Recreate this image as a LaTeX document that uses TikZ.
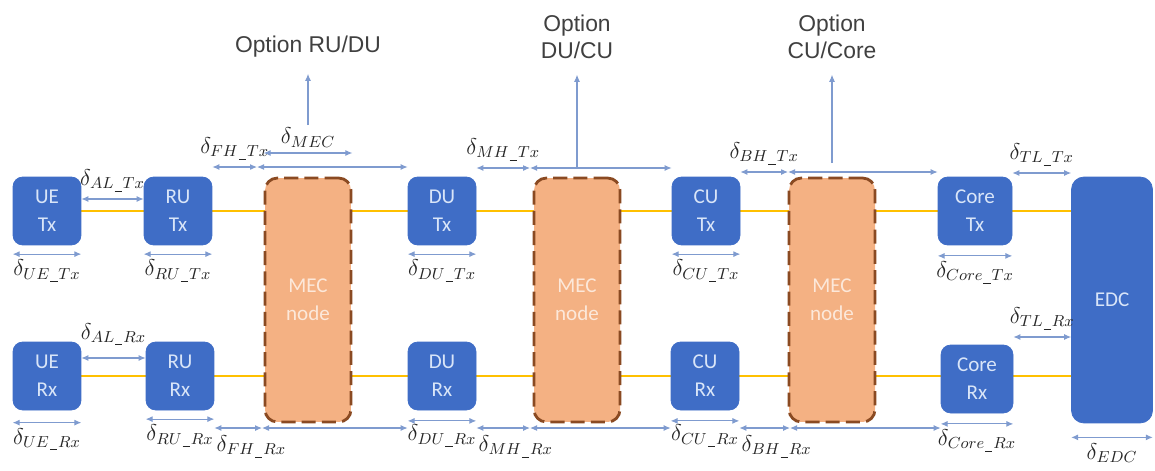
\RequirePackage{fix-cm}
\documentclass[tikz,border=0pt]{standalone}
\usepackage{fontspec}
\usepackage{xcolor}
\usetikzlibrary{arrows.meta, positioning, calc, backgrounds}
\newfontfamily\boxfont{Carlito}
\newfontfamily\optfont{Liberation Sans}
\newcommand{\lowbar}{\mkern1mu\rule[-0.25ex]{0.32em}{0.4pt}\mkern1mu}
\definecolor{ranblue}{HTML}{3F6DC6}
\definecolor{ranlight}{HTML}{D9E5F8}
\definecolor{mecfill}{HTML}{F4B183}
\definecolor{mecedge}{HTML}{8A4A22}
\definecolor{meclight}{HTML}{FCE8DA}
\definecolor{wireyel}{HTML}{FFC000}
\definecolor{dimblue}{HTML}{7F9BCF}
\definecolor{optgray}{HTML}{404040}
\tikzset{
  block/.style={draw=ranblue, fill=ranblue, rounded corners=5.5pt, align=center, minimum width=1.36cm, minimum height=1.36cm, inner sep=1pt, text=ranlight, font=\boxfont\fontsize{12}{16}\selectfont},
  edcblock/.style={block, rounded corners=7pt, minimum width=1.62cm, minimum height=4.92cm},
  mec/.style={draw=mecedge, fill=mecfill, line width=1.6pt, dash pattern=on 8pt off 3.5pt, rounded corners=7pt, align=center, minimum width=1.72cm, minimum height=4.88cm, text=meclight, font=\boxfont\fontsize{12}{16}\selectfont},
  link/.style={wireyel, line width=0.8pt},
  delay/.style={{Latex[length=1.4mm, width=1.2mm]}-{Latex[length=1.4mm, width=1.2mm]}, dimblue, line width=0.6pt},
  rise/.style={-{Latex[length=1.4mm, width=1.2mm]}, dimblue, line width=0.6pt, shorten >=2mm},
  note/.style={inner sep=1pt, text=black!85, font=\fontsize{13}{15}\selectfont},
  option/.style={align=center, text=optgray, font=\optfont\fontsize{13}{15}\selectfont}
}
\begin{document}
\begin{tikzpicture}[x=0.02cm, y=-0.02cm]
    \useasboundingbox (0,0) rectangle (1155,470);
    \node[block] (uetx) at (47,211) {UE\\Tx};
    \node[block] (rutx) at (178,211) {RU\\Tx};
    \node[block] (dutx) at (442,211) {DU\\Tx};
    \node[block] (cutx) at (706,211) {CU\\Tx};
    \node[block, minimum width=1.48cm] (coretx) at (975,211) {Core\\Tx};
    \node[block] (uerx) at (47,376) {UE\\Rx};
    \node[block] (rurx) at (180,376) {RU\\Rx};
    \node[block] (durx) at (442,376) {DU\\Rx};
    \node[block] (curx) at (705,376) {CU\\Rx};
    \node[block, minimum width=1.44cm] (corerx) at (977,379) {Core\\Rx};
    \node[edcblock] (edc) at (1112,300) {EDC};
    \node[mec] (mec1) at (308,300) {MEC\\node};
    \node[mec] (mec2) at (577,300) {MEC\\node};
    \node[mec] (mec3) at (832,300) {MEC\\node};
    \begin{scope}[on background layer]
        \draw[link] (uetx.center) -- (uetx.center -| edc.west);
        \draw[link] (uerx.center) -- (uerx.center -| edc.west);
    \end{scope}
    \node[option] (optrudu) at (mec1.north |- 0,47) {Option RU/DU};
    \node[option] (optducu) at (mec2.north |- 0,37) {Option\\DU/CU};
    \node[option] (optcucore) at (mec3.north |- 0,37) {Option\\CU/Core};
    \coordinate (fhtx) at (257,167);
    \coordinate (mhtx) at (530,168);
    \coordinate (bhtx) at (788,172);
    \coordinate (fhrx) at (262,428);
    \coordinate (mhrx) at (530,428);
    \coordinate (bhrx) at (790,428);
    \draw[delay] ([yshift=-5pt]uetx.south west) -- node[note, below=2pt] (luetx) {$\delta_{UE\lowbar Tx}$} ([yshift=-5pt]uetx.south east);
    \draw[delay] ([yshift=-5pt]rutx.south west) -- node[note, below=2pt] (lrutx) {$\delta_{RU\lowbar Tx}$} ([yshift=-5pt]rutx.south east);
    \draw[delay] ([yshift=-5pt]dutx.south west) -- node[note, below=2pt] (ldutx) {$\delta_{DU\lowbar Tx}$} ([yshift=-5pt]dutx.south east);
    \draw[delay] ([yshift=-5pt]cutx.south west) -- node[note, below=2pt] (lcutx) {$\delta_{CU\lowbar Tx}$} ([yshift=-5pt]cutx.south east);
    \draw[delay] ([yshift=-6pt]coretx.south west) -- node[note, below=2pt] (lcoretx) {$\delta_{Core\lowbar Tx}$} ([yshift=-6pt]coretx.south east);
    \draw[delay] (uetx.east |- 0,199) -- node[note, above=3pt] (laltx) {$\delta_{AL\lowbar Tx}$} (rutx.west |- 0,199);
    \draw[delay] (rutx.east |- fhtx) -- node[note, above=3pt] (lfhtx) {$\delta_{FH\lowbar Tx}$} (fhtx);
    \draw[delay] (fhtx) -- (dutx.west |- fhtx);
    \draw[delay] (mec1.west |- 0,153) -- node[note, above=2pt] (lmec) {$\delta_{MEC}$} (mec1.east |- 0,153);
    \draw[rise] (mec1.north |- 0,125) -- (optrudu);
    \draw[delay] (dutx.east |- mhtx) -- node[note, above=3pt] (lmhtx) {$\delta_{MH\lowbar Tx}$} (mhtx);
    \draw[delay] (mhtx) -- (cutx.west |- mhtx);
    \draw[rise] (mec2.north |- mhtx) -- (optducu);
    \draw[delay] (cutx.east |- bhtx) -- node[note, above=3pt] (lbhtx) {$\delta_{BH\lowbar Tx}$} (bhtx);
    \draw[delay] (bhtx) -- (coretx.west |- bhtx);
    \draw[rise] (mec3.north |- 0,163) -- (optcucore);
    \draw[delay] (coretx.east |- 0,173) -- node[note, above=3pt] (ltltx) {$\delta_{TL\lowbar Tx}$} (edc.west |- 0,173);
    \draw[delay] ([yshift=-7pt]uerx.south west) -- node[note, below=2pt] (luerx) {$\delta_{UE\lowbar Rx}$} ([yshift=-7pt]uerx.south east);
    \draw[delay] ([yshift=-5pt]rurx.south west) -- node[note, below=2pt] (lrurx) {$\delta_{RU\lowbar Rx}$} ([yshift=-5pt]rurx.south east);
    \draw[delay] ([yshift=-6pt]durx.south west) -- node[note, below=1pt] (ldurx) {$\delta_{DU\lowbar Rx}$} ([yshift=-6pt]durx.south east);
    \draw[delay] ([yshift=-6pt]curx.south west) -- node[note, below=1pt] (lcurx) {$\delta_{CU\lowbar Rx}$} ([yshift=-6pt]curx.south east);
    \draw[delay] ([yshift=-6pt]corerx.south west) -- node[note, below=2pt] (lcorerx) {$\delta_{Core\lowbar Rx}$} ([yshift=-6pt]corerx.south east);
    \draw[delay] (uerx.east |- 0,358) -- node[note, above=6pt] (lalrx) {$\delta_{AL\lowbar Rx}$} (rurx.west |- 0,358);
    \draw[delay] (rurx.east |- fhrx) -- node[note, pos=0, anchor=north west, yshift=-3pt] (lfhrx) {$\delta_{FH\lowbar Rx}$} (fhrx);
    \draw[delay] (fhrx) -- (durx.west |- fhrx);
    \draw[delay] (durx.east |- mhrx) -- node[note, pos=0, anchor=north west, yshift=-3pt] (lmhrx) {$\delta_{MH\lowbar Rx}$} (mhrx);
    \draw[delay] (mhrx) -- (curx.west |- mhrx);
    \draw[delay] (curx.east |- bhrx) -- node[note, pos=0, anchor=north west, yshift=-3pt] (lbhrx) {$\delta_{BH\lowbar Rx}$} (bhrx);
    \draw[delay] (bhrx) -- (corerx.west |- bhrx);
    \draw[delay] (corerx.east |- 0,337) -- node[note, above=3pt] (ltlrx) {$\delta_{TL\lowbar Rx}$} (edc.west |- 0,337);
    \draw[delay] ([yshift=-8pt]edc.south west) -- node[note, below=2pt] (ledc) {$\delta_{EDC}$} ([yshift=-8pt]edc.south east);
\end{tikzpicture}
\end{document}
